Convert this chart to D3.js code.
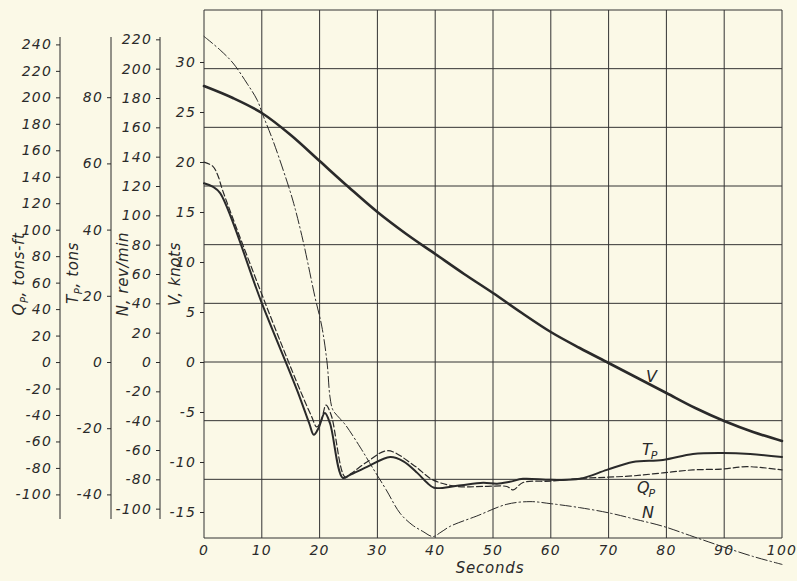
<!DOCTYPE html>
<html>
<head>
<meta charset="utf-8">
<script src="https://cdn.jsdelivr.net/npm/d3@7"></script>
<style>
  html, body { margin: 0; padding: 0; background: #fbf9e7; }
  svg { display: block; }
  text { font-family: "DejaVu Sans", sans-serif; font-style: italic; fill: #2a2a2a; }
</style>
</head>
<body>
<svg id="chart" width="797" height="581"></svg>
<script>
// ---- Time axis ----
const secondsTicks = [0, 10, 20, 30, 40, 50, 60, 70, 80, 90, 100];

// ---- Tick labels of the four vertical scales ----
const qTicks = [240, 220, 200, 180, 160, 140, 120, 100, 80, 60, 40, 20, 0, -20, -40, -60, -80, -100];
const tTicks = [80, 60, 40, 20, 0, -20, -40];
const nTicks = [220, 200, 180, 160, 140, 120, 100, 80, 60, 40, 20, 0, -20, -40, -60, -80, -100];
const vTicks = [30, 25, 20, 15, 10, 5, 0, -5, -10, -15];
// horizontal rulings follow the rev/min scale every 40
const gridRevs = [240, 200, 160, 120, 80, 40, 0, -40, -80, -120];

// ---- Ship speed V, knots ----
const vSeconds = [0, 5, 10, 15, 20, 25, 30, 35, 40, 45, 50, 55, 60, 65, 70, 75, 80, 85, 90, 95, 100];
const vKnots   = [27.6, 26.4, 24.9, 22.7, 20.1, 17.5, 15.0, 12.8, 10.8, 8.8, 6.9, 4.9, 3.0, 1.4, -0.1, -1.6, -3.1, -4.6, -5.9, -7.0, -7.9];

// ---- Propeller thrust T_P, tons ----
const tSeconds = [0, 1.5, 2.8, 10, 16.1, 18.2, 19.0, 19.8, 20.9, 21.8, 24.0, 25.2, 28.2, 32.2, 34.5, 36.9, 38.6, 39.8, 43.8, 48.3, 50.7, 52.9, 55.2, 60, 65, 69.7, 74.2, 79.4, 84.6, 89.8, 94.5, 100];
const tTons    = [54.0, 53.0, 51.0, 17.8, -8.5, -18.5, -22.0, -20.0, -15.4, -18.5, -35.0, -34.2, -31.7, -28.7, -30.0, -33.5, -36.5, -38.0, -37.4, -36.5, -36.8, -36.2, -35.3, -35.6, -35.3, -32.6, -30.2, -29.6, -27.8, -27.5, -27.8, -28.7];

// ---- Propeller torque Q_P, tons-ft ----
const qSeconds = [0, 1.5, 2.4, 3.2, 10.6, 16.6, 18.6, 19.5, 20.3, 21.1, 22.0, 24.4, 25.5, 28.2, 31.8, 36.2, 39.6, 43.8, 48.3, 52.4, 53.5, 55.2, 60, 65, 69.7, 74.2, 79.4, 84.6, 89.8, 93.9, 100];
const qTonsFt  = [151, 148, 141, 130, 44.5, -21, -41, -49, -44, -32.5, -40, -86.8, -84, -75.5, -67, -77.7, -89, -94, -94, -94, -96.6, -91, -90, -88, -87, -86, -83.7, -81.5, -80.8, -79, -81.5];

// ---- Propeller revolutions N, rev/min ----
const nSeconds = [0, 2.8, 5, 7.4, 9.2, 10.2, 11.9, 13.7, 15.4, 17.1, 19.2, 20.4, 21.3, 21.8, 22.3, 23.5, 24.4, 27, 29.2, 31.5, 33.9, 36, 37.9, 39.6, 41, 42.6, 47.2, 52.4, 56.4, 60, 65, 70.2, 74.9, 79.4, 84.6, 89.8, 95, 100];
const nRevMin  = [222, 212.7, 203.9, 190.2, 178.6, 168.3, 151.3, 130.9, 109.8, 83.2, 44.3, 23.9, -0.7, -23.9, -32.7, -38.5, -42.5, -58, -72.3, -87, -103, -111, -115.6, -119, -116, -112, -105, -97, -95.2, -96.6, -99.3, -103, -107.5, -112, -119, -126, -132.6, -138];

// ---- Layout ----
const W = 797, H = 581;
const plot = { left: 204, right: 782, top: 10, bottom: 538 };
const ink = "#2a2a2a";
const scaleTop = 37, scaleBottom = 519;

const svg = d3.select("#chart");
svg.append("rect").attr("width", W).attr("height", H).attr("fill", "#fbf9e7");

const x  = d3.scaleLinear().domain([0, 100]).range([plot.left, plot.right]);
const yN = d3.scaleLinear().domain([-120, 240]).range([plot.bottom, plot.top]);
const yV = d3.scaleLinear().domain([-15, 30]).range([512, 62]);
const yQ = d3.scaleLinear().domain([-100, 240]).range([494.4, 44.4]);
const yT = d3.scaleLinear().domain([-40, 80]).range([494.4, 97.2]);

// ---- Grid ----
const grid = svg.append("g").attr("stroke", "#333").attr("stroke-width", 1).attr("fill", "none");
grid.selectAll("line.v").data(secondsTicks).join("line")
  .attr("x1", d => x(d)).attr("x2", d => x(d))
  .attr("y1", plot.top).attr("y2", plot.bottom);
grid.selectAll("line.h").data(gridRevs).join("line")
  .attr("x1", plot.left).attr("x2", plot.right)
  .attr("y1", d => yN(d)).attr("y2", d => yN(d));

// ---- Vertical scales ----
function drawScale(scale, ticks, xPos, lineTop, lineBottom) {
  const g = svg.append("g").attr("transform", `translate(${xPos},0)`);
  g.call(d3.axisLeft(scale).tickValues(ticks).tickSize(4).tickPadding(4).tickFormat(d => String(d)));
  g.select(".domain").remove();
  g.selectAll(".tick line").attr("stroke", ink).attr("stroke-width", 1);
  g.selectAll(".tick text")
    .attr("fill", ink)
    .style("font-family", '"DejaVu Sans", sans-serif')
    .style("font-style", "italic")
    .style("font-size", "14px")
    .style("letter-spacing", "1.2px");
  if (lineTop !== null) {
    g.append("line").attr("x1", 0).attr("x2", 0).attr("y1", lineTop).attr("y2", lineBottom)
      .attr("stroke", ink).attr("stroke-width", 1);
  }
}
drawScale(yQ, qTicks, 60, scaleTop, scaleBottom);
drawScale(yT, tTicks, 111, scaleTop, scaleBottom);
drawScale(yN, nTicks, 160, scaleTop, scaleBottom);
drawScale(yV, vTicks, plot.left, null, null);

// ---- Time axis labels ----
svg.append("g").selectAll("text").data(secondsTicks).join("text")
  .attr("x", d => x(d)).attr("y", 555)
  .attr("text-anchor", "middle")
  .style("font-size", "14px").style("letter-spacing", "1.2px")
  .text(d => d);
svg.append("text").attr("x", 490).attr("y", 573).attr("text-anchor", "middle")
  .style("font-size", "15px").style("letter-spacing", "0.8px").text("Seconds");

// ---- Axis titles (rotated) ----
function axisTitle(xPos, yPos, main, sub, rest) {
  const t = svg.append("text")
    .attr("transform", `translate(${xPos},${yPos}) rotate(-90)`)
    .attr("text-anchor", "middle")
    .style("font-size", "15px").style("letter-spacing", "0.6px");
  t.append("tspan").text(main);
  if (sub) {
    t.append("tspan").attr("dy", 4).style("font-size", "10px").text(sub);
    t.append("tspan").attr("dy", -4).text(rest);
  } else {
    t.append("tspan").text(rest);
  }
}
axisTitle(24, 274, "Q", "P", ", tons-ft");
axisTitle(78, 273, "T", "P", ", tons");
axisTitle(128, 274, "N", null, ", rev/min");
axisTitle(180, 274, "V", null, ", knots");

// ---- Curves ----
const curve = d3.curveCatmullRom.alpha(0.5);
function drawSeries(times, values, yScale, width, dash) {
  const line = d3.line().x(d => x(d[0])).y(d => yScale(d[1])).curve(curve);
  svg.append("path")
    .datum(d3.zip(times, values))
    .attr("d", line)
    .attr("fill", "none")
    .attr("stroke", ink)
    .attr("stroke-width", width)
    .attr("stroke-linejoin", "round")
    .attr("stroke-linecap", "round")
    .attr("stroke-dasharray", dash);
}
drawSeries(nSeconds, nRevMin, yN, 1, "11,3,1.5,3");
drawSeries(qSeconds, qTonsFt, yQ, 1.2, "6,3");
drawSeries(tSeconds, tTons, yT, 2, null);
drawSeries(vSeconds, vKnots, yV, 2.6, null);

// ---- Curve labels ----
function curveLabel(xPos, yPos, main, sub) {
  const t = svg.append("text").attr("x", xPos).attr("y", yPos).style("font-size", "16px");
  t.append("tspan").text(main);
  if (sub) t.append("tspan").attr("dy", 4).attr("dx", -1).style("font-size", "11px").text(sub);
}
curveLabel(646, 382, "V", null);
curveLabel(642, 455, "T", "P");
curveLabel(637, 493, "Q", "P");
curveLabel(642, 518, "N", null);
</script>
</body>
</html>
